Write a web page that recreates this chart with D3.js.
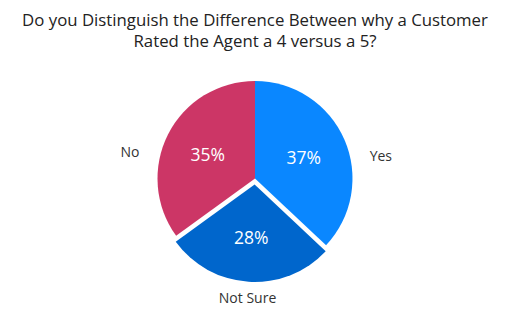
<!DOCTYPE html>
<html><head><meta charset="utf-8">
<script src="https://cdn.jsdelivr.net/npm/d3@7"></script>
<style>body{margin:0;background:#fff;font-family:"Open Sans",sans-serif;}</style>
</head><body><svg id="c" width="510" height="325"></svg>
<script>
const categories = ["Yes", "Not Sure", "No"];
const values = [37, 28, 35];
const colors = ["#0a87ff", "#0066cc", "#cc3666"];
const titleLines = ["Do you Distinguish the Difference Between why a Customer", "Rated the Agent a 4 versus a 5?"];
const exploded = ["Not Sure"];

const W = 510, H = 325, cx = 255, cy = 178.5, R = 97.5, explode = 6;
const svg = d3.select("#c");
svg.append("text").attr("x", W/2).attr("y", 26).attr("text-anchor","middle")
  .attr("font-size",16.8).attr("fill","#222")
  .selectAll("tspan").data(titleLines).join("tspan")
  .attr("x", W/2).attr("dy",(d,i)=>i?21:0).text(d=>d);

const data = categories.map((c,i)=>({cat:c, value:values[i], color:colors[i]}));
const pie = d3.pie().value(d=>d.value).sort(null);
const arcs = pie(data);
const arc = d3.arc().innerRadius(0).outerRadius(R);
const pctArc = d3.arc().innerRadius(106).outerRadius(0);
const g = svg.append("g").attr("transform",`translate(${cx},${cy})`);
const total = d3.sum(values);

function off(d){
  if(!exploded.includes(d.data.cat)) return [0,0];
  const a=(d.startAngle+d.endAngle)/2;
  return [explode*Math.sin(a), -explode*Math.cos(a)];
}
const sl = g.selectAll("g.s").data(arcs).join("g")
  .attr("transform", d=>{const o=off(d);return `translate(${o[0]},${o[1]})`;});
sl.append("path").attr("d",arc).attr("fill",d=>d.data.color);
sl.append("text").attr("transform",d=>`translate(${pctArc.centroid(d)})`)
  .attr("text-anchor","middle").attr("dominant-baseline","central")
  .attr("font-size",17.5).attr("fill","#fff")
  .text(d=>Math.round(d.data.value/total*100)+"%");

// outer labels: angle pulled toward horizontal for side slices
sl.append("text").attr("transform",d=>{
    let a=(d.startAngle+d.endAngle)/2;
    if (Math.abs(Math.sin(a))>0.5){
      const h = Math.sin(a)>0 ? Math.PI/2 : 3*Math.PI/2;
      a = a + 0.55*(h-a);
    }
    const r = exploded.includes(d.data.cat) ? 113 : 128;
    return `translate(${r*Math.sin(a)},${-r*Math.cos(a)})`;
  })
  .attr("text-anchor","middle").attr("dominant-baseline","central")
  .attr("font-size",14).attr("fill","#333").text(d=>d.data.cat);
</script></body></html>
